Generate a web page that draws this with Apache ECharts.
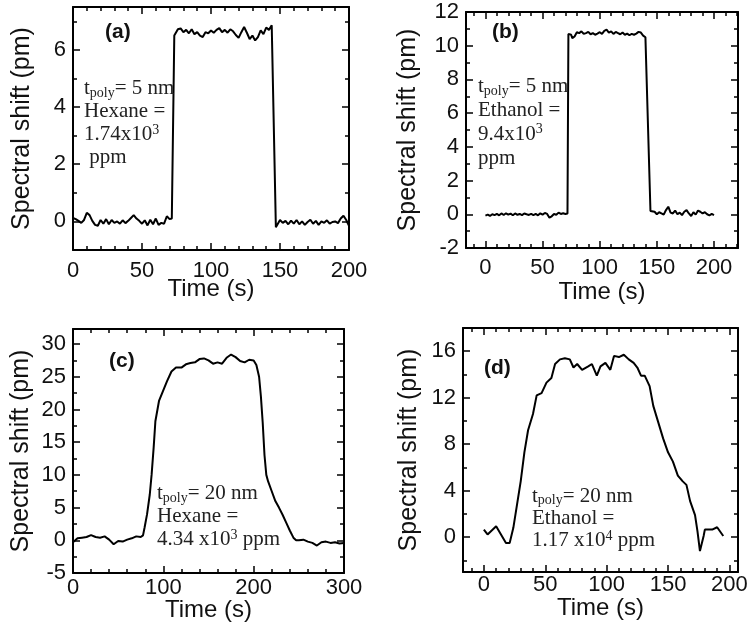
<!DOCTYPE html>
<html>
<head>
<meta charset="utf-8">
<script src="https://cdn.jsdelivr.net/npm/echarts@6/dist/echarts.min.js"></script>
<style>html,body{margin:0;padding:0;background:#fff}#c{width:747px;height:632px}</style>
</head>
<body>
<div id="c"></div>
<script>
// ---------- Panel (a): hexane, t_poly = 5 nm ----------
const aTime = [0,2,4,6,8,10,12,14,16,18,20,22,24,26,28,30,32,34,36,38,40,42,44,46,48,50,52,54,56,58,60,62,64,66,68,70,71.6,73.4,74,76,78,80,82,84,86,88,90,92,94,96,98,100,102,104,106,108,110,112,114,116,118,120,122,124,126,128,130,132,134,136,138,140,142,144,145,147,148,150,152,154,156,158,160,162,164,166,168,170,172,174,176,178,180,182,184,186,188,190,192,194,196,198,200];
const aShift = [0.12,0.08,0.02,-0.05,0.05,0.3,0.22,0.02,-0.12,-0.15,0.05,-0.08,0.08,-0.1,0.05,-0.05,0.0,-0.08,0.04,-0.06,0.02,0.12,0.22,0.1,0.02,-0.08,0.04,-0.14,0.06,-0.1,0.1,-0.12,-0.05,-0.08,0.18,0.08,0.1,6.5,6.55,6.72,6.75,6.62,6.7,6.58,6.72,6.55,6.62,6.5,6.45,6.62,6.58,6.68,6.6,6.7,6.76,6.62,6.7,6.6,6.72,6.65,6.52,6.42,6.62,6.8,6.6,6.38,6.5,6.33,6.45,6.68,6.55,6.78,6.7,6.86,6.8,-0.2,-0.15,0.05,-0.05,0.02,-0.1,0.03,-0.08,0.05,-0.1,0.0,-0.12,-0.02,0.06,-0.08,0.02,-0.12,0.0,-0.05,0.04,-0.08,-0.02,0.0,-0.06,0.1,0.2,0.05,-0.15];

// ---------- Panel (b): ethanol, t_poly = 5 nm ----------
const bTime = [0,2,4,6,8,10,12,14,16,18,20,22,24,26,28,30,32,34,36,38,40,42,44,46,48,50,52,54,56,58,60,62,64,66,68,70,71.8,72.6,74,75,76,78,80,82,84,86,88,90,92,94,96,98,100,102,104,106,108,110,112,114,116,118,120,122,124,126,128,130,132,134,136,138,140,141.6,144.4,146,148,150,152,154,156,158,160,162,164,166,168,170,172,174,176,178,180,182,184,186,188,190,192,194,196,198,200];
const bShift = [-0.08,-0.02,-0.1,0.0,-0.05,0.02,-0.06,0.05,-0.04,0.06,-0.02,0.04,-0.06,0.05,-0.03,0.02,-0.05,0.05,0.0,-0.04,0.03,-0.05,0.02,-0.06,0.06,-0.02,0.08,0.02,-0.2,-0.12,0.02,-0.03,0.1,0.02,0.06,0.02,0.05,10.7,10.8,10.65,10.45,10.55,10.8,10.75,10.85,10.7,10.75,10.82,10.68,10.75,10.65,10.72,10.8,10.7,10.88,10.95,10.78,10.85,10.7,10.82,10.75,10.68,10.78,10.65,10.72,10.62,10.7,10.65,10.72,10.82,10.78,10.6,10.5,10.45,0.2,0.1,0.15,0.0,0.12,0.05,-0.02,0.25,0.45,0.1,0.05,0.22,0.0,0.1,-0.05,0.15,0.25,0.05,-0.1,0.12,-0.02,0.22,0.15,0.05,0.12,0.0,-0.06,0.02,-0.05];

// ---------- Panel (c): hexane, t_poly = 20 nm ----------
const cTime = [0,5,10,15,20,25,30,35,40,45,50,55,60,65,70,75,77.5,79.3,82,85,87,89.3,91.2,95.2,99.6,104,109,114,120,125,130,135,140,145,150,155,160,165,170,175,180,185,190,195,200,203,206,208,210,212,214,216,220,224,228,232,236,240,244,247,250,255,260,265,270,275,280,285,290,295,300];
const cShift = [-0.3,0.3,0.4,0.5,0.8,0.5,0.4,0.6,0.1,-0.6,-0.1,-0.2,0.1,0.3,0.6,0.5,0.75,2.0,4.0,7.0,10.0,14.2,18.2,21.3,22.8,24.3,25.8,26.4,26.4,26.9,27.1,27.2,27.7,27.8,27.5,27.0,27.2,27.0,27.9,28.4,28.0,27.4,27.2,27.6,27.5,26.8,25.0,22.0,18.0,13.0,10.0,9.0,7.5,6.0,5.0,3.9,2.7,1.5,0.4,0.0,0.0,0.1,-0.2,-0.4,-0.8,-0.3,-0.2,-0.4,-0.3,-0.5,-0.4];

// ---------- Panel (d): ethanol, t_poly = 20 nm ----------
const dTime = [0,3,10,18,21,24,27,30,33,36,40,43,47,51,55,58,62,66,70,73,76,80,85,88,92,95,99,103,106,110,114,118,122,125,128,131,135,138,142,146,150,154,158,162,165,168,172,174,176,179,180,186,190,195];
const dShift = [0.65,0.23,0.94,-0.5,-0.5,0.8,2.8,4.8,7.3,9.2,10.6,12.2,12.4,13.3,13.7,14.9,15.3,15.4,15.3,14.6,14.9,14.4,14.7,14.9,13.9,14.7,15.0,14.4,15.6,15.5,15.7,15.3,15.0,14.6,13.9,13.9,13.0,11.3,9.9,8.5,7.3,6.5,5.3,4.8,4.5,3.1,1.9,0.5,-1.2,0.1,0.65,0.65,0.85,0.1];

// ---------- Tick values ----------
const aXMajor = [0,50,100,150,200];
const aXMinor = [10,20,30,40,60,70,80,90,110,120,130,140,160,170,180,190];
const aYMajor = [0,2,4,6];
const aYMinor = [-1,1,3,5,7];
const bXMajor = [0,50,100,150,200];
const bXMinor = [-10,10,20,30,40,60,70,80,90,110,120,130,140,160,170,180,190,210,220];
const bYMajor = [-2,0,2,4,6,8,10,12];
const bYMinor = [-1,1,3,5,7,9,11];
const cXMajor = [0,100,200,300];
const cXMinor = [20,40,60,80,120,140,160,180,220,240,260,280];
const cYMajor = [-5,0,5,10,15,20,25,30];
const cYMinor = [-2.5,2.5,7.5,12.5,17.5,22.5,27.5];
const dXMajor = [0,50,100,150,200];
const dXMinor = [-10,10,20,30,40,60,70,80,90,110,120,130,140,160,170,180,190];
const dYMajor = [0,4,8,12,16];
const dYMinor = [-2,2,6,10,14,18];

const xName = 'Time (s)';
const yName = 'Spectral shift (pm)';

const FONT = 'Liberation Sans';
const SERIF = 'Liberation Serif';

function axisSet(grid, isX, min, max, major, minor, name, nameGap, margin) {
  const pos1 = isX ? 'bottom' : 'left', pos2 = isX ? 'top' : 'right';
  const base = {gridIndex: grid, type: 'value', min: min, max: max, scale: true, splitLine: {show: false}};
  const line = {show: true, onZero: false, lineStyle: {color: '#000', width: 2}};
  const noLine = {show: false, onZero: false};
  const majTick = {show: true, inside: true, length: 7, customValues: major, lineStyle: {color: '#000', width: 1.5}};
  const minTick = {show: true, inside: true, length: 4, customValues: minor, lineStyle: {color: '#000', width: 1.5}};
  return [
    Object.assign({}, base, {position: pos1, axisLine: line, axisTick: majTick,
      axisLabel: {show: true, customValues: major, fontFamily: FONT, fontSize: 22, color: '#111', margin: margin},
      name: name, nameLocation: 'middle', nameGap: nameGap, nameMoveOverlap: false,
      nameTextStyle: {fontFamily: FONT, fontSize: isX ? 24 : 25, color: '#111'}}),
    Object.assign({}, base, {position: pos1, axisLine: noLine, axisTick: minTick, axisLabel: {show: false}}),
    Object.assign({}, base, {position: pos2, axisLine: line, axisTick: majTick, axisLabel: {show: false}}),
    Object.assign({}, base, {position: pos2, axisLine: noLine, axisTick: minTick, axisLabel: {show: false}})
  ];
}

function pairs(t, v) { return t.map((x, i) => [x, v[i]]); }

const xAxes = [].concat(
  axisSet(0, true, 0, 200, aXMajor, aXMinor, xName, 27, 10),
  axisSet(1, true, -17, 221, bXMajor, bXMinor, xName, 32, 9),
  axisSet(2, true, 0, 300, cXMajor, cXMinor, xName, 25, 4),
  axisSet(3, true, -17, 207, dXMajor, dXMinor, xName, 24, 2)
);
const yAxes = [].concat(
  axisSet(0, false, -1, 7.5, aYMajor, aYMinor, yName, 38, 7),
  axisSet(1, false, -2, 12, bYMajor, bYMinor, yName, 45, 7),
  axisSet(2, false, -5, 32.3, cYMajor, cYMinor, yName, 39, 7),
  axisSet(3, false, -3, 18, dYMajor, dYMinor, yName, 41, 7)
);

function lineSeries(g, t, v) {
  return {type: 'line', xAxisIndex: g * 4, yAxisIndex: g * 4, data: pairs(t, v), showSymbol: false, symbol: 'none',
    lineStyle: {color: '#000', width: 2}, silent: true, animation: false};
}

const annStyle = {
  n: {fontFamily: SERIF, fontSize: 21, fill: '#222'},
  sub: {fontFamily: SERIF, fontSize: 14, fill: '#222', lineHeight: 14, verticalAlign: 'bottom'},
  sup: {fontFamily: SERIF, fontSize: 14, fill: '#222', lineHeight: 14, verticalAlign: 'top'}
};
function ann(left, top, text, lh) {
  const rich = JSON.parse(JSON.stringify(annStyle));
  rich.n.lineHeight = lh;
  return {type: 'text', left: left, top: top, z: 100, style: {text: text, rich: rich, fill: '#222', font: '21px "Liberation Serif"'}};
}
function tag(left, top, text) {
  return {type: 'text', left: left, top: top, z: 100, style: {text: text, fill: '#111', font: 'bold 21px "Liberation Sans"'}};
}

const chart = echarts.init(document.getElementById('c'), null, {renderer: 'canvas'});
chart.setOption({
  animation: false,
  backgroundColor: '#fff',
  grid: [
    {left: 73, top: 7, width: 276, height: 243, outerBoundsMode: 'none'},
    {left: 466, top: 12, width: 272, height: 236, outerBoundsMode: 'none'},
    {left: 73, top: 329, width: 271, height: 244, outerBoundsMode: 'none'},
    {left: 463, top: 328, width: 275, height: 244, outerBoundsMode: 'none'}
  ],
  xAxis: xAxes,
  yAxis: yAxes,
  series: [
    lineSeries(0, aTime, aShift),
    lineSeries(1, bTime, bShift),
    lineSeries(2, cTime, cShift),
    lineSeries(3, dTime, dShift)
  ],
  graphic: [
    tag(105, 22, '(a)'),
    tag(492, 22, '(b)'),
    tag(109, 351, '(c)'),
    tag(484, 358, '(d)'),
    ann(84, 78, '{n|t}{sub|poly}{n|= 5 nm}\n{n|Hexane =}\n{n|1.74x10}{sup|3}\n{n| ppm}', 23),
    ann(478, 76, '{n|t}{sub|poly}{n|= 5 nm}\n{n|Ethanol =}\n{n|9.4x10}{sup|3}\n{n|ppm}', 24),
    ann(157, 483, '{n|t}{sub|poly}{n|= 20 nm}\n{n|Hexane =}\n{n|4.34 x10}{sup|3}{n| ppm}', 23),
    ann(532, 486, '{n|t}{sub|poly}{n|= 20 nm}\n{n|Ethanol =}\n{n|1.17 x10}{sup|4}{n| ppm}', 22)
  ]
});
</script>
</body>
</html>
